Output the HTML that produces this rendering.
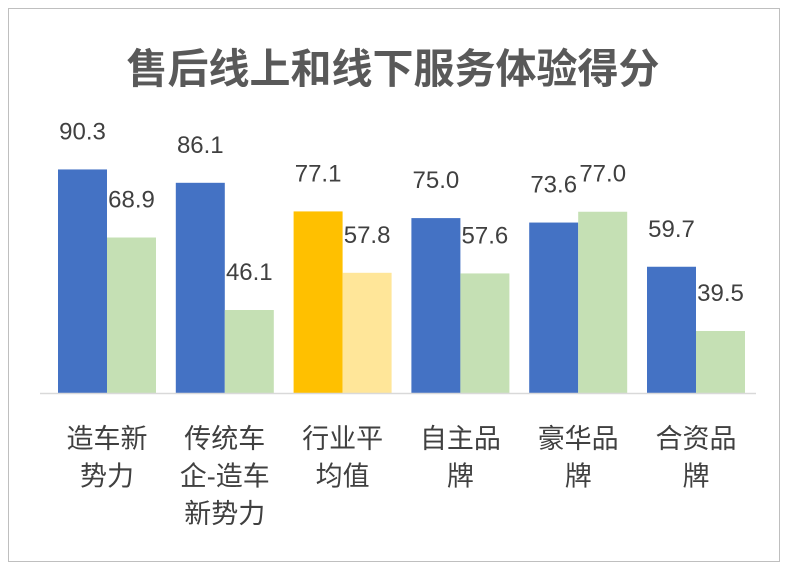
<!DOCTYPE html>
<html><head><meta charset="utf-8"><style>
body{margin:0;background:#fff;}
svg{display:block;font-family:"Liberation Sans","Noto Sans CJK SC",sans-serif;}
</style></head><body>
<svg width="786" height="569">
<rect x="8.5" y="8.5" width="771" height="553" fill="#fff" stroke="#bfbfbf"/>
<text x="393" y="83" text-anchor="middle" font-size="41" font-weight="bold" fill="#595959">售后线上和线下服务体验得分</text>
<g id="plot"></g>
<line x1="40" y1="393.5" x2="756" y2="393.5" stroke="#d9d9d9" stroke-width="1.5"/>
</svg>
<script>
const categories=[["造车新","势力"],["传统车","企-造车","新势力"],["行业平","均值"],["自主品","牌"],["豪华品","牌"],["合资品","牌"]];
const onlineValues=[90.3,86.1,77.1,75.0,73.6,59.7];
const offlineValues=[68.9,46.1,57.8,57.6,77.0,39.5];
const yMin=20,yMax=100;
const yBase=393,yTop=138.6;
const yScale=v=>yBase-(v-yMin)/(yMax-yMin)*(yBase-yTop);
const cx=i=>107+i*117.8;
const bw=49;
const plot=document.getElementById('plot');
const NS="http://www.w3.org/2000/svg";
function mk(t,a){const e=document.createElementNS(NS,t);for(const k in a)e.setAttribute(k,a[k]);plot.appendChild(e);return e;}
categories.forEach((c,i)=>{
  const hl=i===2;
  [[onlineValues[i],hl?"#FFC000":"#4472C4",cx(i)-bw,"online"],[offlineValues[i],hl?"#FFE699":"#C5E0B4",cx(i),"offline"]].forEach(([v,col,x,s])=>{
    const r=mk('rect',{x:x,y:yScale(v),width:bw,height:yBase-yScale(v),fill:col});
    
    
    const t=mk('text',{x:x+bw/2,y:yScale(v)-30,'text-anchor':'middle','font-size':24,fill:'#404040'});
    t.textContent=v.toFixed(1);
    
    
  });
  c.forEach((ln,j)=>{
    const t=mk('text',{x:cx(i),y:448+j*37.5,'text-anchor':'middle','font-size':27,fill:'#404040'});
    t.textContent=ln;
    
    
  });
});
</script>
</body></html>
